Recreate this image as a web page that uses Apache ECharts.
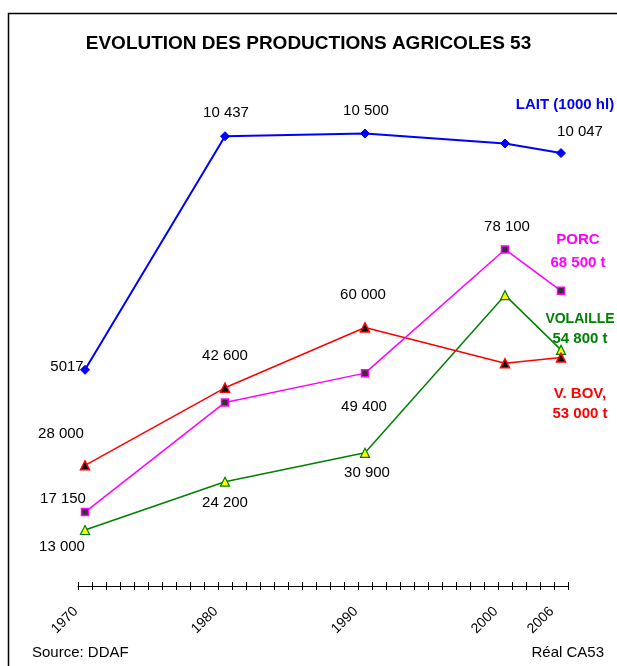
<!DOCTYPE html>
<html>
<head>
<meta charset="utf-8">
<script src="https://cdn.jsdelivr.net/npm/echarts@6/dist/echarts.min.js"></script>
<style>
html,body{margin:0;padding:0;background:#fff;}
#c{width:617px;height:666px;}
</style>
</head>
<body>
<div id="c"></div>
<script>
// ---- data ----
var categories = [];
for (var y = 1970; y <= 2003; y++) categories.push(String(y));
categories.push('2006');
var shownYears = ['1970', '1980', '1990', '2000', '2006'];
var years = ['1970', '1980', '1990', '2000', '2006'];
var lait = [5017, 10437, 10500, 10270, 10047];      // 1000 hl
var porc = [17150, 42600, 49400, 78100, 68500];     // t
var bov = [28000, 46000, 60000, 51700, 53000];      // t
var volaille = [13000, 24200, 30900, 67500, 54800]; // t

// ---- label placement (offsets from the point, px) ----
var laitLab = [[-18, -3], [1, -23], [1, -23], null, [19, -21]];
var porcLab = [[-22, -13], [0, -47], [-1, 34], [2, -23], null];
var bovLab = [[-24, -31], null, [-2, -33], null, null];
var volLab = [[-23, 17], [0, 21], [2, 20], null, null];

var FONT = '"Liberation Sans", Arial, sans-serif';

function fmt(v) {
  if (v < 10000) return String(v);
  var s = String(Math.round(v));
  return s.replace(/\B(?=(\d{3})+(?!\d))/g, ' ');
}

function build(vals, labs) {
  return vals.map(function (v, i) {
    var d = { value: [years[i], v] };
    if (labs[i]) {
      d.label = { show: true, position: 'inside', offset: labs[i], formatter: fmt(v) };
    }
    return d;
  });
}

var labelBase = { show: false, color: '#000', fontSize: 15, fontFamily: FONT };

var chart = echarts.init(document.getElementById('c'), null, { renderer: 'canvas' });
chart.setOption({
  animation: false,
  backgroundColor: '#fff',
  title: {
    text: 'EVOLUTION DES PRODUCTIONS AGRICOLES 53',
    left: 'center', top: 34, padding: 0,
    textStyle: { fontSize: 19, fontWeight: 'bold', color: '#000', fontFamily: FONT }
  },
  grid: { left: 78, right: 49, top: 112, bottom: 80, containLabel: false },
  xAxis: [{
    type: 'category', data: categories, boundaryGap: true,
    axisLine: { show: true, lineStyle: { color: '#000', width: 1 } },
    axisTick: { show: true, interval: 0, length: 4, lineStyle: { color: '#000' } },
    axisLabel: {
      interval: 0, rotate: 45, margin: 14, padding: [0, 13, 0, 0],
      fontSize: 14, color: '#000', fontFamily: FONT,
      formatter: function (v) { return shownYears.indexOf(v) >= 0 ? v : ''; }
    },
    splitLine: { show: false }
  }, {
    type: 'category', data: categories, boundaryGap: true, position: 'bottom',
    axisLine: { show: false },
    axisTick: { show: true, inside: true, interval: 0, length: 4, lineStyle: { color: '#000' } },
    axisLabel: { show: false },
    splitLine: { show: false }
  }],
  yAxis: [
    { type: 'value', min: 0, max: 110000, show: false, splitLine: { show: false } },
    { type: 'value', min: 0, max: 11000, show: false, splitLine: { show: false } }
  ],
  series: [
    {
      name: 'LAIT (1000 hl)', type: 'line', yAxisIndex: 1, connectNulls: true,
      data: build(lait, laitLab), symbol: 'diamond', symbolSize: 9,
      lineStyle: { color: '#0000FF', width: 2 },
      itemStyle: { color: '#0000FF', borderColor: '#0000FF', borderWidth: 1 },
      label: labelBase, z: 5
    },
    {
      name: 'PORC', type: 'line', data: build(porc, porcLab),
      symbol: 'rect', symbolSize: 7,
      lineStyle: { color: '#FF00FF', width: 1.5 },
      itemStyle: { color: '#333333', borderColor: '#FF00FF', borderWidth: 1.5 },
      label: labelBase, z: 4
    },
    {
      name: 'V. BOV', type: 'line', data: build(bov, bovLab),
      symbol: 'triangle', symbolSize: 9,
      lineStyle: { color: '#FF0000', width: 1.5 },
      itemStyle: { color: '#000000', borderColor: '#FF0000', borderWidth: 1.5 },
      label: labelBase, z: 3
    },
    {
      name: 'VOLAILLE', type: 'line', data: build(volaille, volLab),
      symbol: 'triangle', symbolSize: 9,
      lineStyle: { color: '#008000', width: 1.5 },
      itemStyle: { color: '#FFFF00', borderColor: '#008000', borderWidth: 1.2 },
      label: labelBase, z: 2
    }
  ],
  graphic: [
    { type: 'rect', shape: { x: 8.5, y: 13.5, width: 700, height: 700 },
      style: { fill: null, stroke: '#000', lineWidth: 1.5 }, silent: true, z: 100 },
    { type: 'text', x: 565, y: 105, style: { text: 'LAIT (1000 hl)', fill: '#0000FF', font: 'bold 15px ' + FONT, textAlign: 'center', textVerticalAlign: 'middle' } },
    { type: 'text', x: 578, y: 240, style: { text: 'PORC', fill: '#FF00FF', font: 'bold 15px ' + FONT, textAlign: 'center', textVerticalAlign: 'middle' } },
    { type: 'text', x: 578, y: 263, style: { text: '68 500 t', fill: '#FF00FF', font: 'bold 15px ' + FONT, textAlign: 'center', textVerticalAlign: 'middle' } },
    { type: 'text', x: 580, y: 319, style: { text: 'VOLAILLE', fill: '#008000', font: 'bold 14px ' + FONT, textAlign: 'center', textVerticalAlign: 'middle' } },
    { type: 'text', x: 580, y: 339, style: { text: '54 800 t', fill: '#008000', font: 'bold 15px ' + FONT, textAlign: 'center', textVerticalAlign: 'middle' } },
    { type: 'text', x: 580, y: 394, style: { text: 'V. BOV,', fill: '#FF0000', font: 'bold 15px ' + FONT, textAlign: 'center', textVerticalAlign: 'middle' } },
    { type: 'text', x: 580, y: 414, style: { text: '53 000 t', fill: '#FF0000', font: 'bold 15px ' + FONT, textAlign: 'center', textVerticalAlign: 'middle' } },
    { type: 'text', x: 32, y: 653, style: { text: 'Source: DDAF', fill: '#000', font: '15px ' + FONT, textAlign: 'left', textVerticalAlign: 'middle' } },
    { type: 'text', x: 604, y: 653, style: { text: 'Réal CA53', fill: '#000', font: '15px ' + FONT, textAlign: 'right', textVerticalAlign: 'middle' } }
  ]
});
</script>
</body>
</html>
